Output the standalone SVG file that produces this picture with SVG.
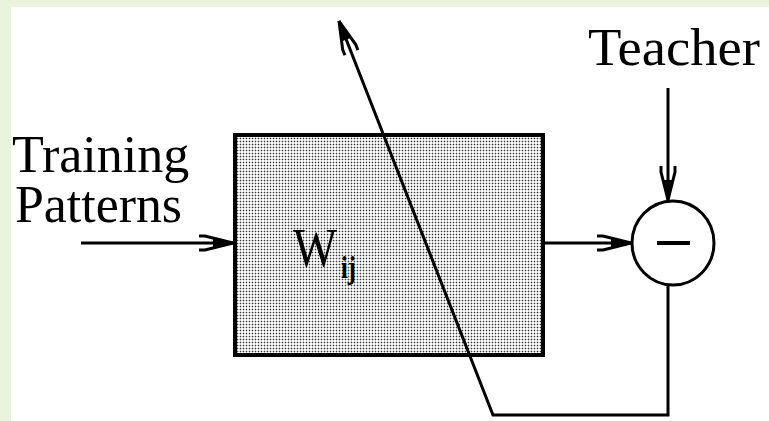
<svg xmlns="http://www.w3.org/2000/svg" width="769" height="421" viewBox="0 0 769 421">
<style>
.lbl{font-family:"Liberation Serif","Times New Roman",serif;fill:#000}
.ln{fill:none;stroke:#000;stroke-width:3}
</style>
<defs>
<pattern id="dots" width="3" height="3" patternUnits="userSpaceOnUse">
<rect width="3" height="3" fill="#ffffff"/>
<rect width="3" height="1" fill="#c4c4c4"/>
<rect width="1" height="3" fill="#c4c4c4"/>
<rect width="1" height="1" fill="#404040"/>
</pattern>
<marker id="ah" viewBox="-40 -12 44 24" refX="0" refY="0" markerWidth="44" markerHeight="24" markerUnits="userSpaceOnUse" orient="auto" overflow="visible">
<path d="M-34,-7 L-28,-7 L0,0 L-28,7 L-34,7" fill="none" stroke="#000" stroke-width="3" stroke-linejoin="miter"/>
<path d="M-20,-4.5 L0,0 L-20,4.5 Z" fill="#000"/>
</marker>
</defs>
<rect width="769" height="421" fill="#ffffff"/>
<rect x="0" y="0" width="769" height="7" fill="#e9f3de"/>
<rect x="0" y="0" width="11" height="421" fill="#e9f3de"/>

<g id="weights">
<rect x="235" y="135" width="308" height="220" fill="url(#dots)" stroke="#000" stroke-width="4"/>
<text class="lbl" x="293" y="266" font-size="55" textLength="44" lengthAdjust="spacingAndGlyphs">W</text>
<text class="lbl" x="341" y="278" font-size="31" font-weight="bold" textLength="15" lengthAdjust="spacingAndGlyphs">ij</text>
</g>

<g id="subtractor">
<ellipse cx="673" cy="243" rx="41" ry="42" fill="#ffffff" stroke="#000" stroke-width="3"/>
<line x1="657" y1="243" x2="690" y2="243" stroke="#000" stroke-width="4"/>
</g>

<g id="training-label">
<text class="lbl" x="12" y="172" font-size="52">Training</text>
<text class="lbl" x="15" y="222" font-size="52" textLength="167" lengthAdjust="spacingAndGlyphs">Patterns</text>
</g>

<g id="teacher-label">
<text class="lbl" x="588" y="65" font-size="53" textLength="172" lengthAdjust="spacingAndGlyphs">Teacher</text>
</g>

<g id="connectors">
<line class="ln" x1="81" y1="243" x2="233" y2="243" marker-end="url(#ah)"/>
<line class="ln" x1="545" y1="243" x2="631" y2="243" marker-end="url(#ah)"/>
<line class="ln" x1="668" y1="88" x2="668" y2="200" marker-end="url(#ah)"/>
<polyline class="ln" points="668,286 668,415 493,415 339,21" marker-end="url(#ah)"/>
</g>
</svg>
